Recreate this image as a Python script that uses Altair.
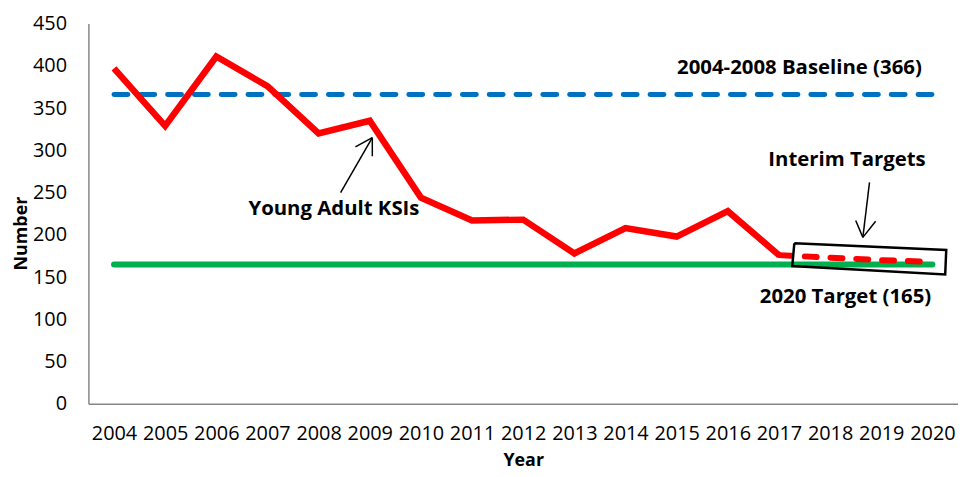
import altair as alt
import pandas as pd

# ---- data ----
years = list(range(2004, 2021))
ksi_years = list(range(2004, 2018))
ksi_values = [397, 329, 411, 376, 320, 335, 244, 217, 218, 178, 208, 198, 228, 176]
interim_years = [2017, 2018, 2019, 2020]
interim_values = [176, 173, 170, 168]
baseline_value = 366
target_value = 165
y_ticks = [0, 50, 100, 150, 200, 250, 300, 350, 400, 450]

# annotation texts anchored in data units (year, value)
ann_labels = ["2004-2008 Baseline (366)", "Young Adult KSIs", "Interim Targets", "2020 Target (165)"]
ann_years = [2017.4, 2008.3, 2018.33, 2018.3]
ann_values = [397, 231, 288, 126]

# arrow segments (year1, value1, year2, value2)
seg_x1 = [2008.43, 2009.05, 2009.05, 2018.77, 2018.64, 2018.64]
seg_y1 = [250, 315, 315, 262, 197, 197]
seg_x2 = [2009.05, 2008.72, 2009.05, 2018.64, 2018.50, 2018.89]
seg_y2 = [315, 304, 293, 197, 217, 216]

# tilted box around interim targets
box_x = [2017.30, 2020.27, 2020.25, 2017.26, 2017.30]
box_y = [190, 182, 153, 163, 190]

FONT = "Open Sans"

ksi_df = pd.DataFrame({"year": ksi_years, "value": ksi_values})
interim_df = pd.DataFrame({"year": interim_years, "value": interim_values})
base_df = pd.DataFrame({"year": years, "value": [baseline_value] * len(years)})
target_df = pd.DataFrame({"year": years, "value": [target_value] * len(years)})
ann_df = pd.DataFrame({"label": ann_labels, "year": ann_years, "value": ann_values})
seg_df = pd.DataFrame({"x1": seg_x1, "y1": seg_y1, "x2": seg_x2, "y2": seg_y2})
box_df = pd.DataFrame({"year": box_x, "value": box_y, "o": list(range(len(box_x)))})

x_enc = alt.X(
    "year:Q",
    scale=alt.Scale(domain=[2003.5, 2020.5], nice=False, zero=False),
    axis=alt.Axis(values=years, format="d", title="Year", labelPadding=20,
                  titlePadding=8),
)
y_enc = alt.Y(
    "value:Q",
    scale=alt.Scale(domain=[0, 450], nice=False),
    axis=alt.Axis(values=y_ticks, title="Number", labelPadding=22,
                  titleX=-58, titleY=211),
)

green = alt.Chart(target_df).mark_line(
    color="#00B050", strokeWidth=6, strokeCap="round"
).encode(x=x_enc, y=y_enc)

blue = alt.Chart(base_df).mark_line(
    color="#0070C0", strokeWidth=5, strokeCap="round", strokeDash=[14, 13]
).encode(x="year:Q", y="value:Q")

red = alt.Chart(ksi_df).mark_line(
    color="#FF0000", strokeWidth=6.5, strokeJoin="miter"
).encode(x="year:Q", y="value:Q")

red_dash = alt.Chart(interim_df).mark_line(
    color="#FF0000", strokeWidth=6, strokeCap="round", strokeDash=[12, 14]
).encode(x="year:Q", y="value:Q")

texts = alt.Chart(ann_df).mark_text(
    font=FONT, fontSize=20.5, fontWeight="bold", color="black", align="center", baseline="middle"
).encode(x="year:Q", y="value:Q", text="label:N")

arrows = alt.Chart(seg_df).mark_rule(color="black", strokeWidth=1.5).encode(
    x="x1:Q", y="y1:Q", x2="x2:Q", y2="y2:Q"
)

box = alt.Chart(box_df).mark_line(color="black", strokeWidth=2.5).encode(
    x="year:Q", y="value:Q", order="o:Q"
)

chart = alt.layer(green, blue, red, red_dash, box, arrows, texts).properties(
    width=876,
    height=383,
    autosize=alt.AutoSizeParams(type="none"),
    padding={"left": 81, "top": 14, "right": 0, "bottom": 72},
).configure_view(stroke=None).configure_axis(
    grid=False,
    ticks=False,
    domainColor="#868686",
    domainWidth=1.5,
    labelFont=FONT,
    labelFontSize=20,
    labelColor="black",
    titleFont=FONT,
    titleFontSize=18,
    titleFontWeight="bold",
    titleColor="black",
)

chart.save("out.html", embed_options={"renderer": "svg", "actions": False})
